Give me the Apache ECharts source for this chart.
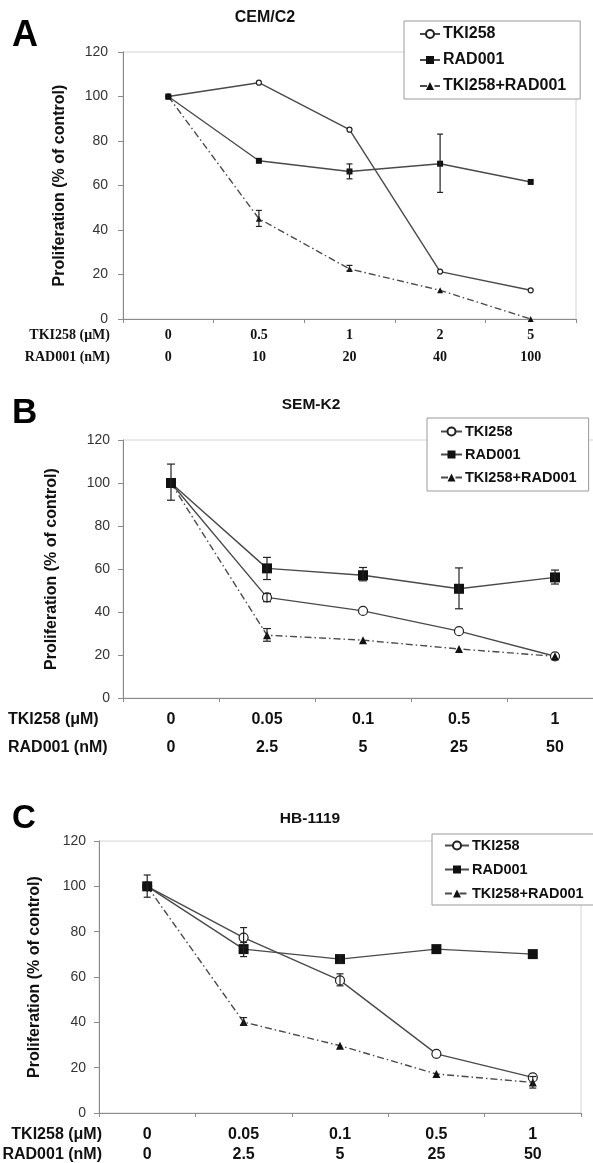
<!DOCTYPE html>
<html>
<head>
<meta charset="utf-8">
<script src="https://cdn.jsdelivr.net/npm/echarts@6/dist/echarts.min.js"></script>
<style>
  html, body { margin: 0; padding: 0; background: #fff; }
  #chart { width: 593px; height: 1163px; }
</style>
</head>
<body>
<div id="chart"></div>
<script>
// ---------------- DATA ----------------
const seriesNames = ['TKI258', 'RAD001', 'TKI258+RAD001'];
const yTicks = [0, 20, 40, 60, 80, 100, 120];

// Panel A : CEM/C2
const titleA = 'CEM/C2';
const tkiDoseA = ['0', '0.5', '1', '2', '5'];
const radDoseA = ['0', '10', '20', '40', '100'];
const tkiA = [100, 106.2, 85.1, 21.3, 12.9];
const radA = [100, 71.1, 66.3, 69.8, 61.6];
const comboA = [100, 45.1, 22.5, 12.9, 0];
const tkiErrA = [null, null, null, null, null];
const radErrA = [null, null, [63, 69.7], [56.9, 83.1], null];
const comboErrA = [null, [41.6, 48.8], [21.6, 24.1], null, null];

// Panel B : SEM-K2
const titleB = 'SEM-K2';
const tkiDoseB = ['0', '0.05', '0.1', '0.5', '1'];
const radDoseB = ['0', '2.5', '5', '25', '50'];
const tkiB = [100, 46.8, 40.5, 31.1, 19.4];
const radB = [100, 60.3, 57.1, 50.8, 56.1];
const comboB = [100, 29.2, 26.9, 22.8, 19.4];
const tkiErrB = [null, [44.8, 48.6], null, null, null];
const radErrB = [[92, 108.8], [55.1, 65.4], [54.5, 60.7], [41.5, 60.5], [53, 59.5]];
const comboErrB = [null, [26.4, 32.3], null, null, null];

// Panel C : HB-1119
const titleC = 'HB-1119';
const tkiDoseC = ['0', '0.05', '0.1', '0.5', '1'];
const radDoseC = ['0', '2.5', '5', '25', '50'];
const tkiC = [100, 77.4, 58.5, 26.1, 15.7];
const radC = [100, 72.3, 67.9, 72.3, 70.1];
const comboC = [100, 40.1, 29.7, 17.2, 13.5];
const tkiErrC = [null, [73, 81.8], [56.1, 61.4], null, null];
const radErrC = [[95.2, 105], [69, 75.2], [66.1, 69.8], null, null];
const comboErrC = [null, [38.8, 42.1], null, null, [11, 16.1]];

const rowLabelTki = 'TKI258 (μM)';
const rowLabelRad = 'RAD001 (nM)';

// ---------------- STYLE / LAYOUT ----------------
const LINE = '#4a4a4a';
const MARK = '#111';
const AXIS = '#8a8a8a';
const SANS = 'Liberation Sans, Arial, sans-serif';
const SERIF = 'Liberation Serif, Times New Roman, serif';

const panels = [
  { key: 'A', title: titleA, tki: tkiA, rad: radA, combo: comboA,
    errs: [tkiErrA, radErrA, comboErrA], dose1: tkiDoseA, dose2: radDoseA,
    grid: { left: 123, top: 52, right: 17, height: 267 },
    sym: [5, 6, 6], cap: 3, nameGap: 55, labelMargin: 15,
    xFont: SERIF, xSize: 14, xLH: 22, xMargin: 5,
    legend: { left: 404, top: 21, padding: [5, 14, 5, 15], itemGap: 10, font: 16, iw: 20, ih: 10 } },
  { key: 'B', title: titleB, tki: tkiB, rad: radB, combo: comboB,
    errs: [tkiErrB, radErrB, comboErrB], dose1: tkiDoseB, dose2: radDoseB,
    grid: { left: 123, top: 440, right: -10, height: 258 },
    sym: [9, 10, 8], cap: 4, nameGap: 63, labelMargin: 13,
    xFont: SANS, xSize: 16, xLH: 28, xMargin: 8,
    legend: { left: 427, top: 418, padding: [6, 12, 6, 13], itemGap: 8, font: 14.5, iw: 21, ih: 10 } },
  { key: 'C', title: titleC, tki: tkiC, rad: radC, combo: comboC,
    errs: [tkiErrC, radErrC, comboErrC], dose1: tkiDoseC, dose2: radDoseC,
    grid: { left: 99, top: 841, right: 12, height: 272 },
    sym: [9, 10, 8], cap: 3.5, nameGap: 56, labelMargin: 13,
    xFont: SANS, xSize: 16, xLH: 20, xMargin: 12,
    legend: { left: 432, top: 834, padding: [4, 12, 4, 12], itemGap: 9, font: 14.5, iw: 24, ih: 10 } }
];

const grids = [], xAxes = [], yAxes = [], series = [], legends = [];

panels.forEach((p, pi) => {
  grids.push(Object.assign({ show: true, borderColor: '#d4d4d4', borderWidth: 1,
    backgroundColor: 'transparent', outerBoundsMode: 'none', containLabel: false }, p.grid));
  xAxes.push({
    type: 'category', gridIndex: pi, data: p.dose1, boundaryGap: true,
    axisLine: { lineStyle: { color: AXIS, width: 1 } },
    axisTick: { show: true, length: 4, lineStyle: { color: AXIS } },
    splitLine: { show: false },
    axisLabel: {
      interval: 0, margin: p.xMargin, color: '#111', fontFamily: p.xFont,
      fontWeight: 'bold', fontSize: p.xSize, lineHeight: p.xLH,
      formatter: (v, i) => v + '\n' + p.dose2[i]
    }
  });
  yAxes.push({
    type: 'value', gridIndex: pi, min: 0, max: 120, interval: 20,
    name: 'Proliferation (% of control)', nameLocation: 'middle', nameRotate: 90,
    nameGap: p.nameGap,
    nameTextStyle: { fontFamily: SANS, fontWeight: 'bold', fontSize: 16, color: '#111' },
    axisLine: { show: true, lineStyle: { color: AXIS, width: 1 } },
    axisTick: { show: true, length: 5, lineStyle: { color: AXIS } },
    splitLine: { show: false },
    axisLabel: { margin: p.labelMargin, color: '#333', fontFamily: SANS, fontSize: 14,
      formatter: v => (yTicks.indexOf(v) >= 0 ? String(v) : '') }
  });
  const vals = [p.tki, p.rad, p.combo];
  const names = seriesNames.map(n => n + '|' + p.key);
  const symbols = ['circle', 'rect', 'triangle'];
  vals.forEach((v, si) => {
    series.push({
      type: 'line', name: names[si], xAxisIndex: pi, yAxisIndex: pi, data: v,
      symbol: symbols[si], symbolSize: p.sym[si], showSymbol: true, z: 3,
      lineStyle: { color: LINE, width: 1.4, type: si === 2 ? [7, 3, 1.5, 3] : 'solid' },
      itemStyle: si === 0
        ? { color: '#fff', borderColor: '#222', borderWidth: 1.2 }
        : { color: MARK, borderColor: MARK, borderWidth: 0 },
      emphasis: { disabled: true }, animation: false
    });
    const errData = [];
    p.errs[si].forEach((e, i) => { if (e) errData.push([i, e[0], e[1]]); });
    if (errData.length) {
      series.push({
        type: 'custom', name: names[si], xAxisIndex: pi, yAxisIndex: pi, data: errData, z: 4,
        animation: false, silent: true,
        renderItem: (params, api) => {
          const lo = api.coord([api.value(0), api.value(1)]);
          const hi = api.coord([api.value(0), api.value(2)]);
          const c = p.cap;
          const st = { stroke: '#222', lineWidth: 1.2 };
          return { type: 'group', children: [
            { type: 'line', shape: { x1: lo[0], y1: lo[1], x2: hi[0], y2: hi[1] }, style: st },
            { type: 'line', shape: { x1: lo[0] - c, y1: lo[1], x2: lo[0] + c, y2: lo[1] }, style: st },
            { type: 'line', shape: { x1: hi[0] - c, y1: hi[1], x2: hi[0] + c, y2: hi[1] }, style: st }
          ]};
        }
      });
    }
  });
  const L = p.legend;
  legends.push({
    orient: 'vertical', left: L.left, top: L.top, padding: L.padding, itemGap: L.itemGap,
    itemWidth: L.iw, itemHeight: L.ih, data: names, selectedMode: false,
    borderColor: '#9a9a9a', borderWidth: 1, backgroundColor: '#fff', z: 10,
    formatter: n => n.split('|')[0],
    textStyle: { fontFamily: SANS, fontWeight: 'bold', fontSize: L.font, color: '#111', padding: [0, 0, 0, -2] }
  });
});

const graphics = [
  // panel letters
  { type: 'text', x: 12, y: 36, style: { text: 'A', font: 'bold 36px ' + SANS, fill: '#000', textVerticalAlign: 'middle' } },
  { type: 'text', x: 12, y: 413, style: { text: 'B', font: 'bold 35px ' + SANS, fill: '#000', textVerticalAlign: 'middle' } },
  { type: 'text', x: 12, y: 819, style: { text: 'C', font: 'bold 33px ' + SANS, fill: '#000', textVerticalAlign: 'middle' } },
  // titles
  { type: 'text', x: 265, y: 18, style: { text: titleA, font: 'bold 16px ' + SANS, fill: '#111', textAlign: 'center', textVerticalAlign: 'middle' } },
  { type: 'text', x: 311, y: 405, style: { text: titleB, font: 'bold 15.5px ' + SANS, fill: '#111', textAlign: 'center', textVerticalAlign: 'middle' } },
  { type: 'text', x: 310, y: 819, style: { text: titleC, font: 'bold 15.5px ' + SANS, fill: '#111', textAlign: 'center', textVerticalAlign: 'middle' } },
  // row labels A
  { type: 'text', x: 110, y: 335, style: { text: rowLabelTki, font: 'bold 14px ' + SERIF, fill: '#111', textAlign: 'right', textVerticalAlign: 'middle' } },
  { type: 'text', x: 110, y: 357, style: { text: rowLabelRad, font: 'bold 14px ' + SERIF, fill: '#111', textAlign: 'right', textVerticalAlign: 'middle' } },
  // row labels B
  { type: 'text', x: 8, y: 720, style: { text: rowLabelTki, font: 'bold 16px ' + SANS, fill: '#111', textAlign: 'left', textVerticalAlign: 'middle' } },
  { type: 'text', x: 8, y: 748, style: { text: rowLabelRad, font: 'bold 16px ' + SANS, fill: '#111', textAlign: 'left', textVerticalAlign: 'middle' } },
  // row labels C
  { type: 'text', x: 102, y: 1135, style: { text: rowLabelTki, font: 'bold 16px ' + SANS, fill: '#111', textAlign: 'right', textVerticalAlign: 'middle' } },
  { type: 'text', x: 102, y: 1155, style: { text: rowLabelRad, font: 'bold 16px ' + SANS, fill: '#111', textAlign: 'right', textVerticalAlign: 'middle' } }
];

const chart = echarts.init(document.getElementById('chart'), null, { renderer: 'canvas' });
chart.setOption({
  animation: false,
  backgroundColor: '#fff',
  grid: grids, xAxis: xAxes, yAxis: yAxes, series: series, legend: legends,
  graphic: graphics
});
</script>
</body>
</html>
